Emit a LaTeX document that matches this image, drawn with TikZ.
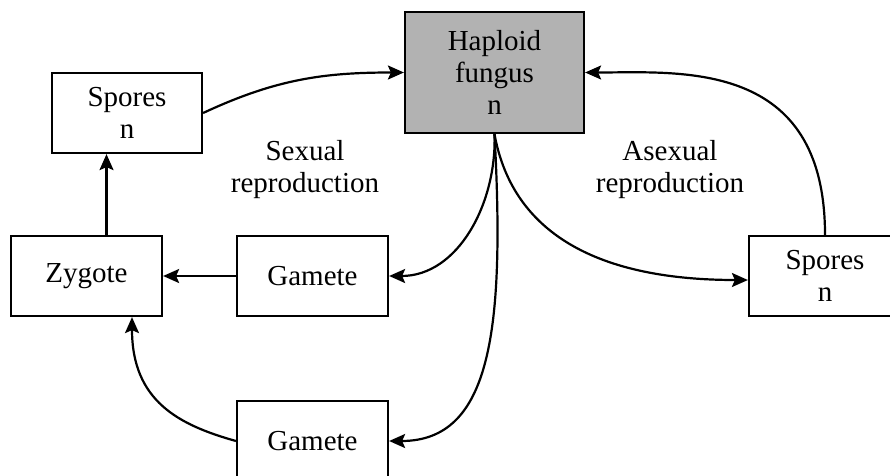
\documentclass[tikz,border=0pt]{standalone}
\usepackage{fontspec}
\setmainfont{Liberation Serif}
\usetikzlibrary{arrows.meta}
\tikzset{
    box/.style = {draw, line width=2.2pt, minimum width=151pt, minimum height=80pt,
                  inner sep=0pt, align=center, font=\fontsize{29}{32}\selectfont},
    txt/.style = {align=center, font=\fontsize{29}{32}\selectfont},
    arr/.style = {line width=2.2pt, -{Stealth[length=16pt, width=14pt, inset=3pt]}}
}
\begin{document}
\begin{tikzpicture}[x=1pt, y=1pt]
        \useasboundingbox (0,0) rectangle (890,475);
        \node[box, fill=black!30, minimum width=179pt, minimum height=121pt] (hap) at (494.5,402.5) {Haploid\\fungus\\n};
        \node[box, minimum width=150pt] (sporesL) at (127,362) {Spores\\n};
        \node[box] (zyg) at (86.5,199) {Zygote};
        \node[box] (gamA) at (312.5,199) {Gamete};
        \node[box] (gamB) at (312.5,34) {Gamete};
        \node[box, minimum width=152pt] (sporesR) at (825,199) {Spores\\n};
        \node[txt] (sex) at (305,305) {Sexual\\reproduction};
        \node[txt] (asex) at (670,305) {Asexual\\reproduction};
        \draw[arr] (sporesL.east) to[out=25, in=180] (hap.west);
        \draw[arr] (hap.south) to[out=-88, in=0] (gamA.east);
        \draw[arr] (hap.south) .. controls +(10.5,-196) and +(102,0) .. (gamB.east);
        \draw[arr] (hap.south) .. controls +(15.5,-86) and +(-169,0) .. ([yshift=-4pt]sporesR.west);
        \draw[arr] (sporesR.north) .. controls +(0,176) and +(95.5,0) .. (hap.east);
        \draw[arr] (gamA.west) -- (zyg.east);
        \draw[arr] (gamB.west) .. controls +(-57,16) and +(0,-84) .. ([xshift=45.5pt]zyg.south);
        \coordinate (zs) at ([xshift=20pt]zyg.north);
        \draw[arr] (zs) -- (zs |- sporesL.south);
\end{tikzpicture}
\end{document}
